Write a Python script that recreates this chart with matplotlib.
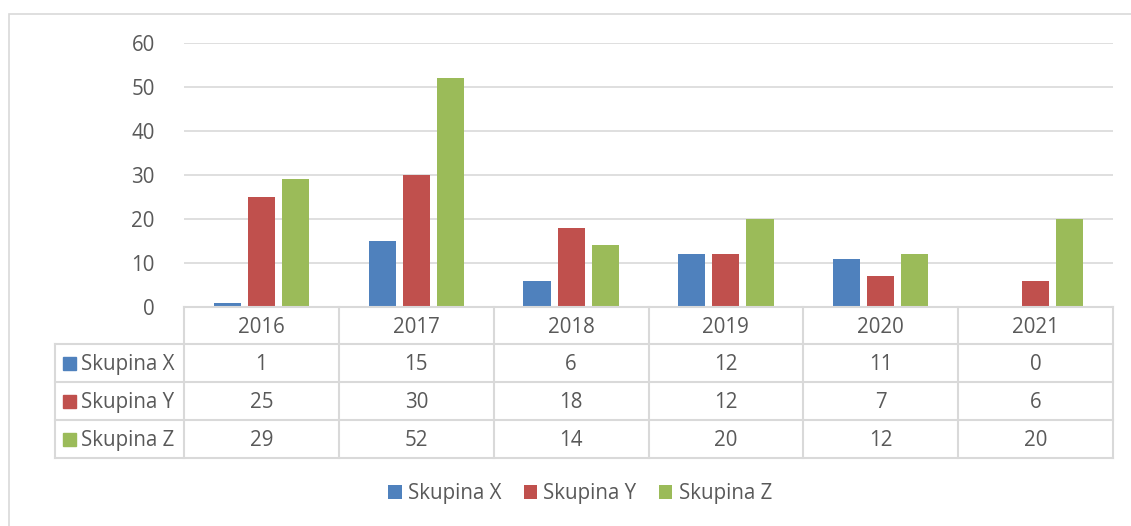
import matplotlib
matplotlib.use("Agg")
import matplotlib.pyplot as plt
from matplotlib.patches import Patch, Rectangle
import numpy as np

years = ["2016", "2017", "2018", "2019", "2020", "2021"]
series_names = ["Skupina X", "Skupina Y", "Skupina Z"]
skupina_x = [1, 15, 6, 12, 11, 0]
skupina_y = [25, 30, 18, 12, 7, 6]
skupina_z = [29, 52, 14, 20, 12, 20]
colors = ["#4F81BD", "#C0504D", "#9BBB59"]
yticks = [0, 10, 20, 30, 40, 50, 60]

plt.rcParams['font.family'] = ['Open Sans', 'DejaVu Sans']
TXT = "#595959"
GRID = "#D9D9D9"
FS = 14.8

W, H = 1131, 526
fig = plt.figure(figsize=(W / 100, H / 100), dpi=100)

def fx(px):
    return px / W

def fy(py):
    return 1 - py / H

# outer chart frame
fig.add_artist(Rectangle((fx(9), fy(540)), fx(1140 - 9), fy(14) - fy(540),
                         transform=fig.transFigure, fill=False,
                         edgecolor=GRID, linewidth=1.2))

left, right, top, bottom = 184, 1113, 43, 307
ax = fig.add_axes([fx(left), fy(bottom), fx(right - left), fy(top) - fy(bottom)])
n = len(years)
x = np.arange(n)
bw = 0.175
gap = 0.045
all_series = [skupina_x, skupina_y, skupina_z]
for i, (vals, c) in enumerate(zip(all_series, colors)):
    off = (i - 1) * (bw + gap)
    ax.bar(x + off, vals, width=bw, color=c, zorder=3)
ax.set_xlim(-0.5, n - 0.5)
ax.set_ylim(0, 60)
ax.set_yticks(yticks)
ax.set_yticklabels([str(t) for t in yticks], color=TXT, fontsize=FS)
ax.tick_params(axis='y', length=0, pad=21)
ax.set_xticks([])
ax.grid(axis='y', color=GRID, linewidth=1.2, zorder=0)
for s in ax.spines.values():
    s.set_visible(False)

# data table
tl, tr, ttop, tbot = 55, 1113, 307, 458
tax = fig.add_axes([fx(tl), fy(tbot), fx(tr - tl), fy(ttop) - fy(tbot)])
tax.set_xlim(tl, tr)
tax.set_ylim(tbot, ttop)
tax.axis('off')
rows = [307, 344, 382, 420, 458]
colw = (right - left) / n
cols = [left + i * colw for i in range(n + 1)]
lk = dict(color=GRID, linewidth=1.5, solid_capstyle='projecting', clip_on=False)
# horizontal lines
tax.plot([left, right], [rows[0], rows[0]], **lk)
for r in rows[1:]:
    tax.plot([tl, right], [r, r], **lk)
# vertical lines
tax.plot([tl, tl], [rows[1], rows[-1]], **lk)
for cx in cols:
    tax.plot([cx, cx], [rows[0], rows[-1]], **lk)
# header
for j, yr in enumerate(years):
    tax.text((cols[j] + cols[j + 1]) / 2, (rows[0] + rows[1]) / 2 + 2, yr,
             ha='center', va='center', color=TXT, fontsize=FS)
for i, (name, vals, c) in enumerate(zip(series_names, all_series, colors)):
    yc = (rows[i + 1] + rows[i + 2]) / 2
    tax.add_patch(Rectangle((63, yc - 6.5), 13, 13, color=c, clip_on=False))
    tax.text(81, yc + 1.5, name, ha='left', va='center', color=TXT, fontsize=FS)
    for j, v in enumerate(vals):
        tax.text((cols[j] + cols[j + 1]) / 2, yc + 1.5, str(v),
                 ha='center', va='center', color=TXT, fontsize=FS)

handles = [Patch(facecolor=c, edgecolor='none', label=nm) for c, nm in zip(colors, series_names)]
fig.legend(handles=handles, loc='center', bbox_to_anchor=(fx(580), fy(494)),
           ncol=3, frameon=False, fontsize=FS, labelcolor=TXT,
           handlelength=0.65, handleheight=0.65, handletextpad=0.3, columnspacing=1.1)

fig.savefig("out.png", dpi=100)
